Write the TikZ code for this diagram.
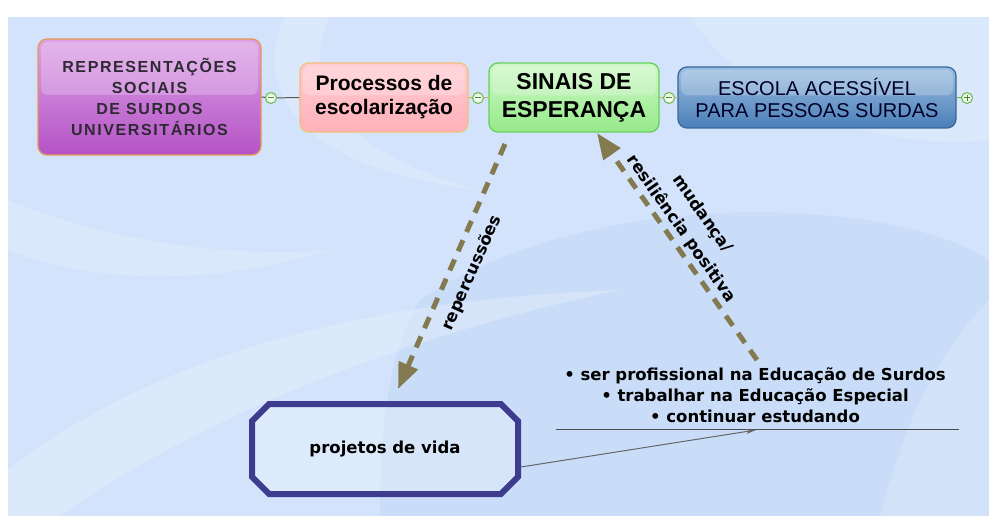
\documentclass[tikz,border=0pt]{standalone}
\usepackage{fontspec}
\setmainfont{Liberation Sans}
\newfontfamily\dv{DejaVu Sans}
\newfontfamily\spaced{Liberation Sans}[LetterSpace=10]
\usetikzlibrary{shapes.misc,arrows.meta,calc}
\definecolor{bgblue}{HTML}{D2E3FB}
\definecolor{bgdark}{HTML}{C3D9F7}
\definecolor{olive}{HTML}{847A50}
\definecolor{navy}{HTML}{3E3C8E}
\definecolor{purpT}{HTML}{DDA2E6}
\definecolor{purpB}{HTML}{B453C6}
\definecolor{purpD}{HTML}{E69A55}
\definecolor{pinkT}{HTML}{FFCCD2}
\definecolor{pinkB}{HTML}{FFB1BA}
\definecolor{pinkD}{HTML}{F4BE78}
\definecolor{grnT}{HTML}{CFF8C8}
\definecolor{grnB}{HTML}{96EA8A}
\definecolor{grnD}{HTML}{66D05A}
\definecolor{bluT}{HTML}{9CBEE2}
\definecolor{bluB}{HTML}{4A7FB8}
\definecolor{bluD}{HTML}{3A6898}
\definecolor{circD}{HTML}{6DB84E}
\definecolor{txtdark}{HTML}{2E2A33}
\tikzset{
  box/.style={rounded corners=9pt, align=center, inner sep=0pt, line width=1.3pt,
    path picture={\fill[white,opacity=0.22,rounded corners=7pt]
      ([xshift=3pt,yshift=-3pt]path picture bounding box.north west) rectangle
      ([xshift=-3pt,yshift=2pt]path picture bounding box.east);}},
  knob/.style={circle, minimum size=11pt, inner sep=0pt, draw=circD, line width=1pt,
    inner color=white, outer color=grnT!70!white},
  minus/.style={knob, path picture={\draw[circD!70!black,line width=1pt]
      ([xshift=-3pt]path picture bounding box.center) -- ([xshift=3pt]path picture bounding box.center);}},
  plus/.style={knob, path picture={\draw[circD!70!black,line width=1pt]
      ([xshift=-3pt]path picture bounding box.center) -- ([xshift=3pt]path picture bounding box.center)
      ([yshift=-3pt]path picture bounding box.center) -- ([yshift=3pt]path picture bounding box.center);}},
  dasharrow/.style={draw=olive, line width=5pt, dash pattern=on 12pt off 9pt,
    -{Triangle[length=26pt,width=20pt]}},
  lbl/.style={font=\dv\bfseries\fontsize{16.5}{21}\selectfont, align=center, inner sep=0pt},
  thinline/.style={draw=black!65, line width=1pt},
}
\begin{document}
\begin{tikzpicture}[x=1pt,y=-1pt]
\useasboundingbox (0,0) rectangle (989,516);
\fill[white] (0,0) rectangle (989,516);
\begin{scope}
\clip (8,17) rectangle (989,516);
\fill[bgblue] (8,17) rectangle (989,516);
\fill[bgdark,opacity=0.5] (420,300) .. controls (600,180) and (900,200) .. (989,260) -- (989,516) -- (380,516) .. controls (380,420) and (390,350) .. (420,300) -- cycle;
\fill[white,opacity=0.22] (8,470) .. controls (150,360) and (350,300) .. (620,290) .. controls (380,340) and (180,430) .. (60,516) -- (8,516) -- cycle;
\fill[white,opacity=0.2] (285,17) .. controls (250,90) and (300,170) .. (480,190) .. controls (330,150) and (300,80) .. (330,17) -- cycle;
\fill[white,opacity=0.18] (690,17) .. controls (760,120) and (900,150) .. (989,140) -- (989,17) -- cycle;
\fill[white,opacity=0.16] (989,300) .. controls (930,360) and (900,440) .. (880,516) -- (989,516) -- cycle;
\fill[white,opacity=0.18] (8,200) .. controls (80,230) and (200,260) .. (330,250) .. controls (200,290) and (80,280) .. (8,250) -- cycle;
\end{scope}

% main boxes
\node[box, draw=purpD, top color=purpT, bottom color=purpB, minimum width=223pt, minimum height=116pt,
  font=\spaced\bfseries\fontsize{16}{21.3}\selectfont, text=txtdark] (rep) at (149.5,97)
  {REPRESENTAÇÕES\\SOCIAIS\\DE SURDOS\\UNIVERSITÁRIOS};
\node[box, draw=pinkD, top color=pinkT, bottom color=pinkB, minimum width=168pt, minimum height=69pt,
  font=\bfseries\fontsize{21}{24}\selectfont] (proc) at (384,97.5) {Processos de\\escolarização};
\node[box, draw=grnD, top color=grnT, bottom color=grnB, minimum width=170pt, minimum height=69pt,
  font=\bfseries\fontsize{23}{28}\selectfont] (sinais) at (574,97.5) {SINAIS DE\\ESPERANÇA};
\node[box, draw=bluD, top color=bluT, bottom color=bluB, minimum width=278pt, minimum height=61pt,
  font=\fontsize{20}{22}\selectfont, text=black!85!blue] (escola) at (817,97.5) {ESCOLA ACESSÍVEL\\PARA PESSOAS SURDAS};

% knobs and links
\node[minus] (k1) at (271,98) {};
\node[minus] (k2) at (478,98) {};
\node[minus] (k3) at (669,98) {};
\node[plus]  (k4) at (967,98) {};
\draw[thinline] (rep.east) -- (k1);
\draw[thinline] (k1) -- (proc.west);
\draw[draw=pinkD!60!brown, line width=1pt] (proc.east) -- (k2);
\draw[draw=pinkD!60!brown, line width=1pt] (k2) -- (sinais.west);
\draw[draw=pinkD!60!brown, line width=1pt] (sinais.east) -- (k3);
\draw[draw=pinkD!60!brown, line width=1pt] (k3) -- (escola.west);
\draw[draw=circD, line width=1pt] (escola.east) -- (k4);

% projetos de vida
\node[chamfered rectangle, chamfered rectangle xsep=9pt, chamfered rectangle ysep=9pt,
  draw=navy, line width=6pt, fill=white, fill opacity=0.25, text opacity=1,
  minimum width=266pt, minimum height=90pt, inner sep=0pt,
  font=\dv\bfseries\fontsize{16.5}{19}\selectfont] (proj) at (385,449) {projetos de vida};

% list
\node[lbl] (list) at (755,395) {• ser profissional na Educação de Surdos\\• trabalhar na Educação Especial\\• continuar estudando};
\coordinate (ulA) at (556,429);
\coordinate (ulB) at (959,429);
\coordinate (ulM) at (756,430);
\draw[draw=black!70, line width=1pt] (ulA) -- (ulB);
\draw[draw=black!60, line width=1pt, -{Stealth[length=10pt,width=5pt]}] ([yshift=-18pt]proj.east) -- (ulM);

% dashed arrows
\coordinate (r1s) at (505,144);
\coordinate (r1e) at (398,389);
\draw[dasharrow] (r1s) -- (r1e);
\node[lbl, rotate=66.4] (l1) at (472,273) {repercussões};
\coordinate (m1s) at (757,360);
\coordinate (m1e) at (597,133);
\draw[dasharrow] (m1s) -- (m1e);
\node[lbl, rotate=-54.8, font=\dv\bfseries\fontsize{16.5}{26}\selectfont] (l2) at (691.5,221.5) {mudança/\\resiliência positiva};
\end{tikzpicture}
\end{document}
